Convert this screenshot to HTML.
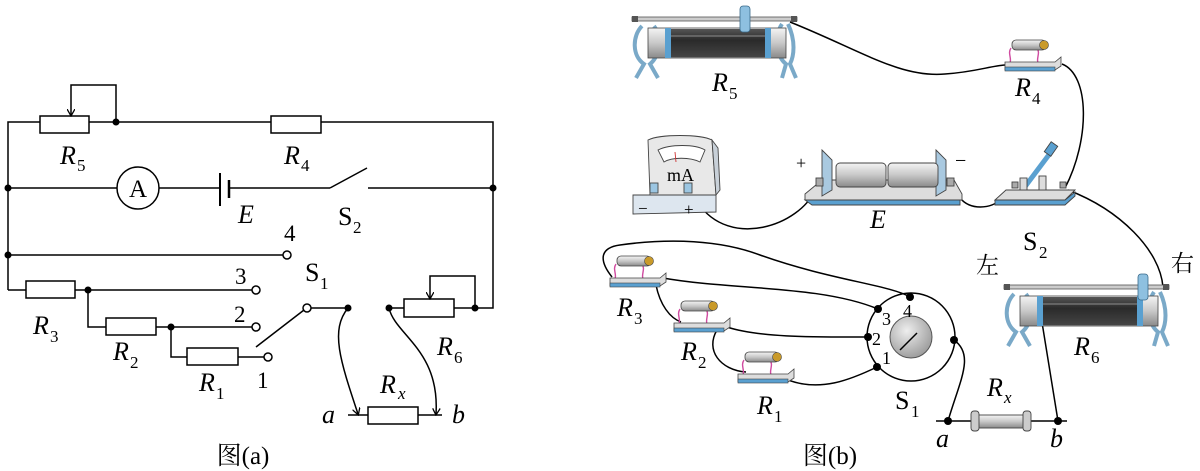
<!DOCTYPE html>
<html><head><meta charset="utf-8"><style>
html,body{margin:0;padding:0;background:#fff;}
svg{display:block;}
svg, svg text{font-family:"Liberation Serif","DejaVu Serif","Noto Serif CJK SC",serif;}
svg text{fill:#000;}
.it{font-style:italic;}
</style></head><body>
<svg width="1200" height="471" viewBox="0 0 1200 471" xmlns="http://www.w3.org/2000/svg" style="font-family:'Liberation Serif','DejaVu Serif','Noto Serif CJK SC',serif">
<defs>
<marker id="ah" markerWidth="8" markerHeight="8" refX="6" refY="4" orient="auto" markerUnits="userSpaceOnUse"><path d="M0,0 L7,4 L0,8" fill="none" stroke="#000" stroke-width="1.3"/></marker>
<linearGradient id="cyl" x1="0" y1="0" x2="0" y2="1"><stop offset="0" stop-color="#f4f4f4"/><stop offset="0.5" stop-color="#c8c8c8"/><stop offset="1" stop-color="#8a8a8a"/></linearGradient>
<linearGradient id="dark" x1="0" y1="0" x2="0" y2="1"><stop offset="0" stop-color="#555"/><stop offset="0.4" stop-color="#2a2a2a"/><stop offset="1" stop-color="#444"/></linearGradient>
<radialGradient id="knob" cx="0.4" cy="0.35" r="0.7"><stop offset="0" stop-color="#eee"/><stop offset="1" stop-color="#999"/></radialGradient>
<g id="rheo">
  <path d="M10,20 C0,30 0,50 12,58 L4,72 M22,20 C30,30 28,50 18,58 L26,72" fill="none" stroke="#7aa9c8" stroke-width="4"/>
  <path d="M150,18 C142,30 144,50 154,58 L150,72 M156,18 C164,35 162,50 158,58 L164,72" fill="none" stroke="#7aa9c8" stroke-width="4"/>
  <rect x="0" y="11" width="165" height="4" fill="#ccc" stroke="#555" stroke-width="0.8"/>
  <rect x="0" y="10" width="6" height="6" fill="#555"/><rect x="159" y="10" width="6" height="6" fill="#555"/>
  <rect x="16" y="22" width="138" height="30" fill="url(#cyl)" stroke="#444" stroke-width="0.8"/>
  <rect x="38" y="23" width="96" height="28" fill="url(#dark)"/>
  <line x1="38" y1="30" x2="134" y2="30" stroke="#aaa" stroke-width="0.8"/>
  <rect x="33" y="22" width="6" height="30" fill="#5aa0d0"/><rect x="133" y="22" width="6" height="30" fill="#5aa0d0"/>
</g>
<g id="res">
  <path d="M8,8 C4,14 10,18 6,26 M34,8 C38,14 32,18 36,26" fill="none" stroke="#d04aa0" stroke-width="1.4"/>
  <rect x="9" y="0" width="34" height="10" rx="4" fill="url(#cyl)" stroke="#444" stroke-width="0.8"/>
  <circle cx="41" cy="5" r="4.5" fill="#c99a2a" stroke="#444" stroke-width="0.6"/>
  <path d="M2,22 L52,22 L58,17 L58,26 L52,30 L2,30 Z" fill="#ddd" stroke="#444" stroke-width="0.8"/>
  <rect x="2" y="27" width="50" height="4" fill="#5aa0d0" stroke="#444" stroke-width="0.6"/>
</g>
</defs>

<g stroke="#000" stroke-width="1.5" fill="none">
  <polyline points="8,290 8,122 40,122"/>
  <rect x="40" y="116" width="49" height="17" fill="#fff"/>
  <line x1="89" y1="122" x2="271" y2="122"/>
  <rect x="271" y="116" width="50" height="17" fill="#fff"/>
  <polyline points="321,122 493,122 493,308 475,308"/>
  <polyline points="116,122 116,85 71,85 71,115" marker-end="url(#ah)"/>
  <line x1="8" y1="188" x2="117" y2="188"/>
  <circle cx="138" cy="188" r="21" fill="#fff"/>
  <line x1="159" y1="188" x2="220" y2="188"/>
  <line x1="220" y1="173" x2="220" y2="206" stroke-width="2"/>
  <line x1="229" y1="180" x2="229" y2="198" stroke-width="2.5"/>
  <line x1="229" y1="188" x2="330" y2="188"/>
  <line x1="330" y1="188" x2="367" y2="168"/>
  <line x1="368" y1="188" x2="493" y2="188"/>
  <line x1="8" y1="255" x2="283" y2="255"/>
  <circle cx="287" cy="255" r="4" fill="#fff"/>
  <line x1="8" y1="290" x2="26" y2="290"/>
  <rect x="26" y="281" width="49" height="17" fill="#fff"/>
  <line x1="75" y1="290" x2="252" y2="290"/>
  <circle cx="256" cy="290" r="4" fill="#fff"/>
  <polyline points="88,290 88,327 106,327"/>
  <rect x="106" y="318" width="50" height="17" fill="#fff"/>
  <line x1="156" y1="327" x2="252" y2="327"/>
  <circle cx="256" cy="327" r="4" fill="#fff"/>
  <polyline points="171,327 171,357 187,357"/>
  <rect x="187" y="348" width="51" height="17" fill="#fff"/>
  <line x1="238" y1="357" x2="264" y2="357"/>
  <circle cx="268" cy="357" r="4" fill="#fff"/>
  <line x1="256" y1="347" x2="304" y2="310"/>
  <circle cx="307" cy="308" r="4" fill="#fff"/>
  <line x1="311" y1="308" x2="348" y2="308"/>
  <line x1="389" y1="308" x2="404" y2="308"/>
  <rect x="404" y="299" width="50" height="18" fill="#fff"/>
  <line x1="454" y1="308" x2="475" y2="308"/>
  <polyline points="475,308 475,276 430,276 430,298" marker-end="url(#ah)"/>
  <line x1="348" y1="415" x2="368" y2="415"/>
  <rect x="368" y="407" width="50" height="17" fill="#fff"/>
  <line x1="418" y1="415" x2="442" y2="415"/>
  <path d="M348,308 C330,330 340,360 358,414" marker-end="url(#ah)"/>
  <path d="M389,308 C395,335 440,350 436,414" marker-end="url(#ah)"/>
</g>
<g fill="#000">
  <circle cx="116" cy="122" r="3.5"/><circle cx="8" cy="188" r="3.5"/><circle cx="493" cy="188" r="3.5"/>
  <circle cx="8" cy="255" r="3.5"/><circle cx="88" cy="290" r="3.5"/><circle cx="171" cy="327" r="3.5"/>
  <circle cx="348" cy="308" r="3.5"/><circle cx="389" cy="308" r="3.5"/><circle cx="475" cy="308" r="3.5"/>
</g>
<text x="138" y="197" font-size="25" text-anchor="middle">A</text>
<text x="60" y="164" font-size="26" class="it">R</text><text x="77" y="171" font-size="17">5</text>
<text x="284" y="164" font-size="26" class="it">R</text><text x="301" y="171" font-size="17">4</text>
<text x="238" y="223" font-size="26" class="it">E</text>
<text x="338" y="225" font-size="26">S</text><text x="353" y="233" font-size="17">2</text>
<text x="284" y="241" font-size="23">4</text>
<text x="305" y="281" font-size="26">S</text><text x="320" y="289" font-size="17">1</text>
<text x="235" y="284" font-size="23">3</text>
<text x="234" y="322" font-size="23">2</text>
<text x="257" y="388" font-size="23">1</text>
<text x="33" y="334" font-size="26" class="it">R</text><text x="50" y="342" font-size="17">3</text>
<text x="113" y="360" font-size="26" class="it">R</text><text x="130" y="368" font-size="17">2</text>
<text x="199" y="391" font-size="26" class="it">R</text><text x="216" y="399" font-size="17">1</text>
<text x="437" y="355" font-size="26" class="it">R</text><text x="454" y="363" font-size="17">6</text>
<text x="380" y="393" font-size="26" class="it">R</text><text x="398" y="399" font-size="17" class="it">x</text>
<text x="322" y="423" font-size="26" class="it">a</text>
<text x="452" y="423" font-size="26" class="it">b</text>
<text x="243" y="464" font-size="25" text-anchor="middle">图(a)</text>

<g stroke="#000" stroke-width="1.5" fill="none">
  <path d="M790,22 C860,50 900,78 945,74 C975,72 990,66 1005,65"/>
  <path d="M1062,64 C1090,75 1090,140 1065,188"/>
  <path d="M698,203 C730,250 800,225 815,190"/>
  <path d="M960,198 C970,210 990,210 1003,198"/>
  <path d="M1068,190 C1120,210 1160,250 1163,287"/>
  <path d="M612,277 C600,262 598,248 620,245 C670,238 720,240 760,255 C830,280 890,285 910,297"/>
  <path d="M663,278 C730,290 820,285 878,309"/>
  <path d="M656,285 C660,305 670,318 681,322"/>
  <path d="M727,327 C760,338 820,337 868,337"/>
  <path d="M717,330 C705,350 720,370 746,372"/>
  <path d="M788,380 C820,392 850,380 877,367"/>
  <path d="M954,340 C975,355 960,380 948,421"/>
  <path d="M1040,310 L1058,421"/>
  <line x1="936" y1="421" x2="1067" y2="421"/>
</g>
<use href="#rheo" x="632" y="6"/>
<rect x="740" y="6" width="10" height="26" rx="3" fill="#8ec0e0" stroke="#3a6a8a" stroke-width="0.8"/>
<use href="#rheo" x="1004" y="274"/>
<rect x="1138" y="274" width="10" height="26" rx="3" fill="#8ec0e0" stroke="#3a6a8a" stroke-width="0.8"/>
<use href="#res" x="1003" y="40"/>
<use href="#res" x="608" y="256"/>
<use href="#res" x="672" y="301"/>
<use href="#res" x="736" y="352"/>
<g stroke="#444" stroke-width="0.9">
  <path d="M633,195 L690,195 L716,195 L716,212 L633,214 Z" fill="#dde6ef"/>
  <path d="M648,140 C660,134 700,134 712,140 L716,195 L650,195 Z" fill="#e8e8e8"/>
  <path d="M712,140 L718,148 L720,190 L716,195 Z" fill="#c8d0d8"/>
  <path d="M658,150 C670,144 695,144 705,150 L700,162 C690,157 672,157 664,162 Z" fill="#fff"/>
  <line x1="675" y1="152" x2="676" y2="162" stroke="#c33"/>
  <rect x="650" y="183" width="8" height="10" fill="#9cc6e2"/>
  <rect x="684" y="183" width="8" height="10" fill="#9cc6e2"/>
</g>
<text x="667" y="181" font-size="18">mA</text>
<text x="638" y="214" font-size="17">−</text>
<text x="684" y="215" font-size="17">+</text>
<g stroke="#444" stroke-width="0.9">
  <path d="M805,200 L960,200 L960,205 L812,205 Z" fill="#5aa0d0"/>
  <path d="M805,194 L822,180 L954,180 L962,194 L962,200 L805,200 Z" fill="#ddd"/>
  <path d="M822,150 L832,160 L832,190 L822,196 Z" fill="#a9c9e0"/>
  <path d="M936,150 L946,160 L946,190 L936,196 Z" fill="#a9c9e0"/>
  <rect x="836" y="163" width="50" height="24" rx="4" fill="url(#cyl)"/>
  <rect x="888" y="163" width="50" height="24" rx="4" fill="url(#cyl)"/>
  <rect x="816" y="178" width="7" height="8" fill="#aaa"/>
  <rect x="947" y="178" width="7" height="8" fill="#aaa"/>
</g>
<text x="796" y="169" font-size="18">+</text>
<text x="955" y="167" font-size="20">−</text>
<text x="870" y="228" font-size="26" class="it">E</text>
<g stroke="#444" stroke-width="0.9">
  <path d="M995,200 L1065,200 L1075,192 L1075,196 L1065,205 L995,205 Z" fill="#5aa0d0"/>
  <path d="M995,200 L1006,190 L1075,190 L1065,200 Z" fill="#ddd"/>
  <path d="M1024,188 L1051,152" stroke="#5aa0d0" stroke-width="5"/>
  <rect x="1047" y="143" width="8" height="12" fill="#5aa0d0" transform="rotate(35 1051 149)"/>
  <rect x="1020" y="178" width="7" height="12" fill="#ddd"/>
  <rect x="1039" y="176" width="7" height="14" fill="#ddd"/>
  <rect x="1012" y="182" width="6" height="6" fill="#aaa"/>
  <rect x="1060" y="182" width="6" height="6" fill="#aaa"/>
</g>
<text x="1023" y="250" font-size="26">S</text><text x="1039" y="258" font-size="17">2</text>
<text x="976" y="273" font-size="23">左</text>
<text x="1171" y="271" font-size="23">右</text>
<circle cx="911" cy="337" r="44" fill="none" stroke="#000" stroke-width="1.5"/>
<circle cx="911" cy="337" r="21" fill="url(#knob)" stroke="#555" stroke-width="1"/>
<line x1="900" y1="350" x2="917" y2="333" stroke="#000" stroke-width="1.5"/>
<g fill="#000">
  <circle cx="910" cy="297" r="4"/><circle cx="878" cy="309" r="4"/><circle cx="868" cy="337" r="4"/>
  <circle cx="877" cy="367" r="4"/><circle cx="954" cy="340" r="4"/>
  <circle cx="948" cy="421" r="4"/><circle cx="1058" cy="421" r="4"/>
</g>
<text x="903" y="317" font-size="18">4</text>
<text x="882" y="325" font-size="18">3</text>
<text x="872" y="345" font-size="18">2</text>
<text x="882" y="364" font-size="18">1</text>
<text x="895" y="409" font-size="26">S</text><text x="911" y="417" font-size="17">1</text>
<g stroke="#444" stroke-width="0.9">
  <rect x="978" y="415" width="46" height="13" fill="url(#cyl)"/>
  <rect x="971" y="411" width="8" height="20" rx="3" fill="#ccc"/>
  <rect x="1023" y="411" width="8" height="20" rx="3" fill="#ccc"/>
</g>
<text x="987" y="396" font-size="26" class="it">R</text><text x="1004" y="403" font-size="17" class="it">x</text>
<text x="936" y="447" font-size="26" class="it">a</text>
<text x="1050" y="447" font-size="26" class="it">b</text>
<text x="712" y="91" font-size="26" class="it">R</text><text x="729" y="99" font-size="17">5</text>
<text x="1015" y="96" font-size="26" class="it">R</text><text x="1032" y="104" font-size="17">4</text>
<text x="1074" y="355" font-size="26" class="it">R</text><text x="1091" y="363" font-size="17">6</text>
<text x="617" y="316" font-size="26" class="it">R</text><text x="634" y="324" font-size="17">3</text>
<text x="681" y="360" font-size="26" class="it">R</text><text x="698" y="368" font-size="17">2</text>
<text x="757" y="414" font-size="26" class="it">R</text><text x="774" y="422" font-size="17">1</text>
<text x="830" y="464" font-size="25" text-anchor="middle">图(b)</text>
</svg>
</body></html>
